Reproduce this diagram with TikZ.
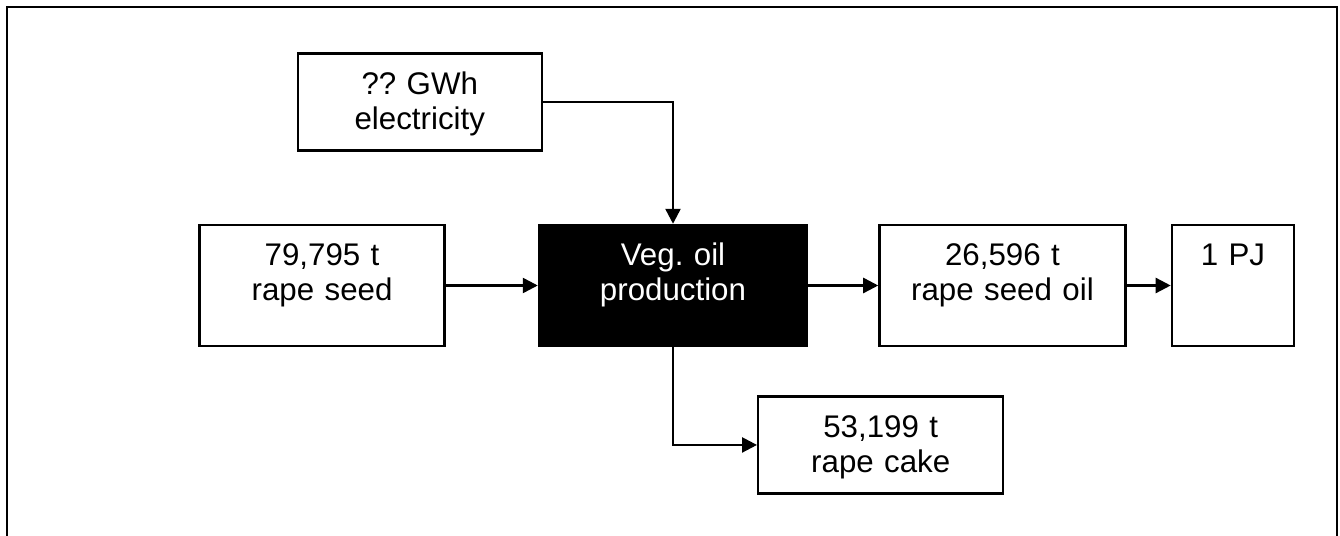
\documentclass[tikz,border=0pt]{standalone}
\usepackage{fontspec}
\setmainfont{Liberation Sans}
\usetikzlibrary{positioning,arrows.meta}
\frenchspacing

\tikzset{
  flowbox/.style={draw, line width=1.4pt, inner sep=0pt, align=center,
    text width=#1, text height=0.82cm, font=\fontsize{17.8}{19.9}\selectfont},
  flowarrow/.style={line width=1.4pt, -{Triangle[length=0.3cm,width=0.3cm]}}
}

\begin{document}
\begin{tikzpicture}
        \useasboundingbox (0,0) rectangle (26.8,-10.72);
        % frame
        \draw[line width=1.4pt] (0.14,-10.8) -- (0.14,-0.14) -- (26.74,-0.14) -- (26.74,-10.8);

        % process
        \node[flowbox=5.36cm, text depth=1.6cm, fill=black, text=white] (veg) at (13.46,-5.71) {Veg. oil\\production};
        % inputs
        \node[flowbox=4.9cm, text depth=1.6cm, left=1.84cm of veg] (seed) {79,795 t\\rape seed};
        \node[flowbox=4.88cm, text depth=1.12cm, above left=1.44cm and 2.6cm of veg.north] (elec) {?? GWh\\electricity};
        % outputs
        \node[flowbox=4.92cm, text depth=1.6cm, right=1.4cm of veg] (oil) {26,596 t\\rape seed oil};
        \node[flowbox=2.44cm, text depth=1.6cm, right=0.88cm of oil] (pj) {1 PJ};
        \node[flowbox=4.9cm, text depth=1.12cm, below right=0.96cm and 1.68cm of veg.south] (cake) {53,199 t\\rape cake};

        % flows
        \draw[flowarrow] (elec.east) -| (veg.north);
        \draw[flowarrow] (seed) -- (veg);
        \draw[flowarrow] (veg) -- (oil);
        \draw[flowarrow] (oil) -- (pj);
        \draw[flowarrow] (veg.south) |- (cake.west);
\end{tikzpicture}
\end{document}
